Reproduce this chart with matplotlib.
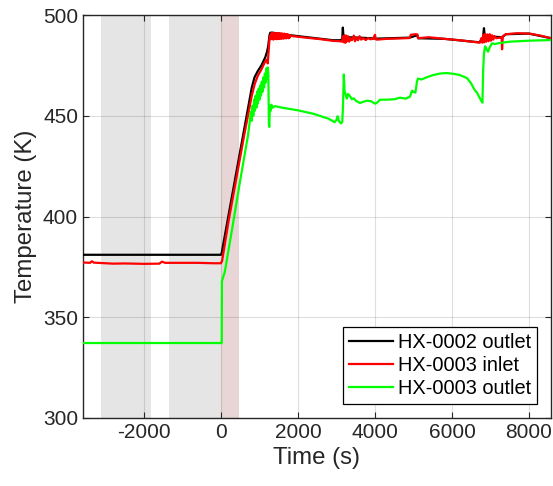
#!/usr/bin/env python3
"""HX temperature trace, MATLAB-look recreation"""
import matplotlib
matplotlib.use('Agg')
import matplotlib.pyplot as plt

plt.rcParams['font.family'] = ['Liberation Sans', 'DejaVu Sans']
plt.rcParams['axes.unicode_minus'] = False

# === DATA ===
# HX-0002 outlet
black_t = [-3584, 0, 20, 200, 400, 600, 800, 870, 950, 1050, 1150, 1200, 1230, 1260, 1280, 1320,
           1800, 2909, 3100, 3150, 3165, 3180, 3250, 3600, 4050, 4900, 5100, 5120, 5800, 6700,
           6800, 6830, 6850, 7300, 7400, 8000, 8571]
black_T = [381, 381, 382, 401, 422, 443, 464, 469, 472, 475, 479, 482, 485, 490, 491.2, 491.3,
           490, 487.5, 487.5, 488, 493.8, 489.5, 489, 488.8, 488.3, 488.8, 490, 488.5, 488.2, 486.5,
           488, 493.5, 489.5, 489, 490.5, 490.8, 488.5]

# HX-0003 inlet
red_t = [-3584, -3400, -3351, -3300, -2800, -2500, -2000, -1600, -1532, -1450, -600, -200, 0,
         30, 200, 400, 600, 800, 880, 960, 1050, 1150, 1200, 1215, 1230, 1260, 1285,
         1300, 1315, 1330, 1345, 1360, 1375, 1390, 1405, 1420, 1435, 1450, 1465, 1480, 1495,
         1510, 1525, 1540, 1555, 1570, 1585, 1600, 1615, 1630, 1645, 1660, 1675, 1690, 1705,
         1720, 1735, 1750, 1765, 1780, 1800, 1830,
         2200, 2600, 2909, 3100,
         3140, 3170, 3190, 3210, 3230, 3250, 3270, 3300, 3330, 3360, 3400, 3450, 3480, 3520,
         3560, 3600, 3640, 3700, 3760, 3820, 3880, 3950, 4000, 4020, 4050,
         4300, 4650, 4900, 4930, 5050, 5100, 5120, 5400, 5800, 6200, 6500, 6727,
         6760, 6790, 6810, 6840, 6860, 6890, 6920, 6950, 6980, 7010, 7040, 7070, 7100, 7150,
         7250, 7290, 7300, 7320, 7400, 7700, 8000, 8300, 8571]
red_T = [377.2, 377.0, 377.8, 377.1, 376.6, 376.7, 376.5, 376.6, 377.6, 377.0, 377.0, 376.8, 376.8,
         378, 398, 419, 440, 460, 466, 470, 473, 477, 478, 476, 480, 488, 490,
         488.0, 491.0, 488.3, 491.2, 487.8, 490.7, 488.1, 491.0, 488.4, 490.9, 488.0, 491.1, 488.3, 490.8,
         488.1, 491.0, 488.4, 490.7, 488.2, 490.9, 488.5, 490.6, 488.3, 490.8, 488.6, 490.5, 488.4, 490.6,
         488.7, 490.3, 488.5, 490.2, 488.8, 490, 489.6,
         488.8, 488.0, 487.2, 487.0,
         486.8, 489.5, 486.5, 490, 486.2, 489.8, 487, 489.5, 486.8, 488.5, 487.5, 489.8, 487, 488.8,
         487.5, 489.5, 487.8, 488.5, 487.6, 488.6, 488, 488.2, 490.2, 488, 487.8,
         488.2, 488.4, 488.6, 490.2, 490.5, 490.4, 488.5, 489.0, 488.2, 487.5, 486.8, 486.3,
         488.5, 486.3, 490.2, 486.5, 490.6, 486.8, 490.4, 487, 490.5, 487.3, 490, 487.8, 489.6, 488.5,
         488.8, 489, 483, 489.5, 490.5, 491, 490.8, 489.8, 488.5]

# HX-0003 outlet
green_t = [-3584, 20, 25, 100, 300, 500, 700, 760,
           780, 800, 820, 840, 860, 880, 900, 920, 940, 960, 980, 1000, 1020, 1040, 1060, 1080,
           1100, 1120, 1140, 1160, 1180, 1200, 1215, 1230,
           1245, 1255, 1270, 1290, 1310, 1340, 1400, 1600, 2000, 2400, 2800, 2950, 3000, 3030,
           3060, 3120, 3150, 3170, 3190, 3210, 3240, 3270, 3300, 3340, 3400, 3450, 3500, 3610,
           3700, 3800, 3900, 4000, 4052, 4130, 4300, 4500, 4649, 4800, 4909, 4960, 4990, 5050,
           5090, 5117, 5200, 5400, 5506, 5700, 5870, 6050, 6208, 6390, 6500, 6545, 6600, 6650,
           6700, 6760, 6790, 6810, 6830, 6860, 6900, 6935, 6980, 7039, 7117, 7200, 7500, 8026, 8571]
green_T = [337.2, 337.2, 368, 372.5, 395, 418, 440, 449,
           452, 447.5, 455, 450, 458, 452.5, 460, 454, 462, 456, 463.5, 458, 465, 460, 467, 462,
           469, 464, 471, 466.5, 473.5, 468.5, 474, 471,
           446, 444.5, 455, 452.5, 455.5, 454, 454.8, 454, 452.7, 451, 448.5, 446.8, 448, 449.8,
           447.5, 446.2, 447, 455, 470.5, 462, 460.5, 458.5, 460.8, 460, 458.2, 458.7, 457.5, 456.3,
           457, 457.5, 457.2, 456, 456.5, 458, 458, 458.2, 459, 458.5, 459.5, 462.5, 462, 461.5,
           467, 468.5, 468, 469.5, 470.2, 471, 471.2, 470.8, 470.2, 468.7, 466, 464.3, 462.5, 461.5,
           459.5, 457.5, 456.5, 473, 481, 484.5, 483, 481.8, 484, 486, 485.6, 486, 486.8, 487.3, 487.6]

# shaded time windows (s)
gray_windows = [(-3120, -1820), (-1350, 0)]
pink_window = (0, 470)

# === CHART ===
fig = plt.figure(figsize=(5.53, 4.86), dpi=100)
ax = fig.add_axes([0.150, 0.140, 0.8464, 0.829])

for a, b in gray_windows:
    ax.axvspan(a, b, color='#e5e5e5', lw=0, zorder=1)
ax.axvspan(pink_window[0], pink_window[1], color='#e8d6d6', lw=0, zorder=1)

ax.plot(black_t, black_T, color='black', lw=1.6, label='HX-0002 outlet', zorder=3)
ax.plot(red_t, red_T, color='#ff0000', lw=1.6, label='HX-0003 inlet', zorder=4)
ax.plot(green_t, green_T, color='#00ff00', lw=1.6, label='HX-0003 outlet', zorder=5)

ax.set_xlim(-3584, 8571)
ax.set_ylim(300, 500)
ax.set_xticks([-2000, 0, 2000, 4000, 6000, 8000])
ax.set_yticks([300, 350, 400, 450, 500])
ax.set_axisbelow('line')
ax.grid(True, color='#262626', alpha=0.15, lw=0.8)

ax.tick_params(direction='in', length=4, width=0.8, top=True, right=True,
               labelsize=15, colors='#262626', labelcolor='#262626')
for s in ax.spines.values():
    s.set_color('#262626')
    s.set_linewidth(1.0)

ax.set_xlabel('Time (s)', fontsize=17.3, color='#262626', labelpad=4)
ax.set_ylabel('Temperature (K)', fontsize=17.3, color='#262626', labelpad=4)

leg = ax.legend(loc='lower right', fontsize=14.4, fancybox=False, framealpha=1,
                edgecolor='black', handlelength=2.2, handletextpad=0.25,
                labelspacing=0.2, borderpad=0.3, borderaxespad=0.7)
leg.get_frame().set_linewidth(0.9)

plt.savefig('out.png', dpi=100)
plt.close()
